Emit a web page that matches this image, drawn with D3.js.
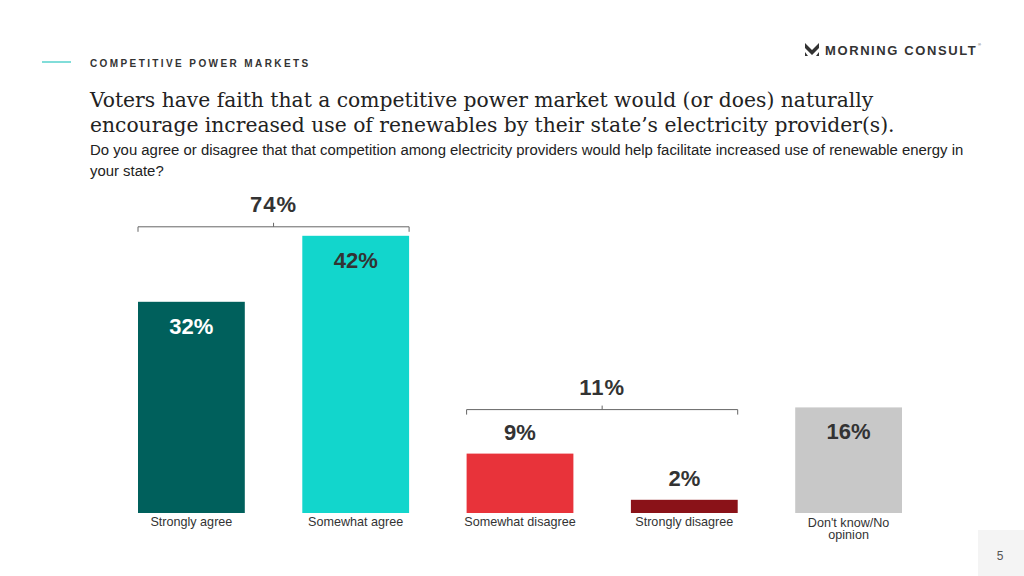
<!DOCTYPE html>
<html><head><meta charset="utf-8">
<script src="https://cdn.jsdelivr.net/npm/d3@7"></script>
<style>body{margin:0;background:#fff;} svg{display:block;}</style>
</head><body>
<svg id="c" width="1024" height="576"></svg>
<script>
const categories = ["Strongly agree","Somewhat agree","Somewhat disagree","Strongly disagree","Don't know/No opinion"];
const values = [32, 42, 9, 2, 16];
const colors = ["#00605c","#12d6cc","#e8333a","#8a1218","#c8c8c8"];
const labelColors = ["#ffffff","#333333","#333333","#333333","#333333"];
const labelInside = [true, true, false, false, true];
const groups = [{label:"74%", from:0, to:1},{label:"11%", from:2, to:3}];

const svg = d3.select("#c");
const sans = "'Liberation Sans', Arial, sans-serif";

function fitText(sel, width, baseSize) {
  const w = sel.node().getComputedTextLength();
  sel.attr("font-size", baseSize * width / w);
}

// header
svg.append("line").attr("x1",42).attr("x2",71).attr("y1",62).attr("y2",62).attr("stroke","#2cc6c0").attr("stroke-width",1.2);
svg.append("text").attr("x",90).attr("y",67).text("COMPETITIVE POWER MARKETS")
  .attr("font-family",sans).attr("font-weight","bold").attr("font-size",10).attr("letter-spacing",2.4).attr("fill","#333");

// logo
const logo = svg.append("g").attr("transform","translate(805,43)");
logo.append("path").attr("d","M0,0 L7,7 L14,0 L14,5 L7,12 L0,5 Z").attr("fill","#333");
logo.append("path").attr("d","M0,9 L3,13 L0,13 Z M14,9 L11,13 L14,13 Z").attr("fill","#333");
logo.append("text").attr("x",20).attr("y",12).text("MORNING CONSULT")
  .attr("font-family",sans).attr("font-weight","bold").attr("font-size",13).attr("letter-spacing",1.6).attr("fill","#333");
logo.append("text").attr("x",173).attr("y",3).text("®").attr("font-family",sans).attr("font-size",4).attr("fill","#333");

// title
const serif = "'DejaVu Serif', Georgia, serif";
const t1 = svg.append("text").attr("x",90).attr("y",107).text("Voters have faith that a competitive power market would (or does) naturally")
  .attr("font-family",serif).attr("font-size",20).attr("fill","#222");
fitText(t1, 784, 20);
const t2 = svg.append("text").attr("x",90).attr("y",132).text("encourage increased use of renewables by their state’s electricity provider(s).")
  .attr("font-family",serif).attr("font-size",t1.attr("font-size")).attr("fill","#222");
const s1 = svg.append("text").attr("x",90).attr("y",155).text("Do you agree or disagree that that competition among electricity providers would help facilitate increased use of renewable energy in")
  .attr("font-family",sans).attr("font-size",14).attr("fill","#222");
fitText(s1, 874, 14);
svg.append("text").attr("x",90).attr("y",176).text("your state?")
  .attr("font-family",sans).attr("font-size",s1.attr("font-size")).attr("fill","#222");

// chart
const x = d3.scaleBand().domain(categories).range([138,902]).paddingInner(0.35).paddingOuter(0);
const y = d3.scaleLinear().domain([0,10]).range([513,447]);

svg.selectAll("rect.bar").data(categories).join("rect").attr("class","bar")
  .attr("x",d=>x(d)).attr("width",x.bandwidth())
  .attr("y",(d,i)=>y(values[i])).attr("height",(d,i)=>y(0)-y(values[i]))
  .attr("fill",(d,i)=>colors[i]);

svg.selectAll("text.val").data(categories).join("text").attr("class","val")
  .attr("x",d=>x(d)+x.bandwidth()/2)
  .attr("y",(d,i)=> labelInside[i] ? y(values[i])+32 : y(values[i])-14)
  .attr("text-anchor","middle").attr("font-family",sans).attr("font-weight","bold").attr("font-size",22)
  .attr("fill",(d,i)=>labelColors[i]).text((d,i)=>values[i]+"%");

// category labels
categories.forEach((c,i)=>{
  const cx = x(c)+x.bandwidth()/2;
  const t = svg.append("text").attr("x",cx).attr("text-anchor","middle").attr("font-family",sans).attr("font-size",12.6).attr("fill","#333");
  if (c === "Don't know/No opinion") {
    t.append("tspan").attr("x",cx).attr("y",527).text("Don't know/No");
    t.append("tspan").attr("x",cx).attr("y",539).text("opinion");
  } else {
    t.attr("y",526).text(c);
  }
});

// brackets
groups.forEach(g=>{
  const x0 = x(categories[g.from]), x1 = x(categories[g.to])+x.bandwidth();
  const tops = [g.from, g.to].map(i => y(values[i]) - (labelInside[i] ? 0 : 35));
  const by = Math.min(...tops) - 9;
  const mid = (x0+x1)/2;
  svg.append("path").attr("d",`M${x0},${by+5}V${by}H${x1}V${by+5}M${mid},${by}V${by-4}`)
    .attr("fill","none").attr("stroke","#666").attr("stroke-width",1);
  svg.append("text").attr("x",mid).attr("y",by-15).attr("text-anchor","middle")
    .attr("font-family",sans).attr("font-weight","bold").attr("font-size",22).attr("letter-spacing",1).attr("fill","#333").text(g.label);
});

// page number
svg.append("rect").attr("x",978).attr("y",530).attr("width",46).attr("height",46).attr("fill","#f4f4f4");
svg.append("text").attr("x",1000).attr("y",560).attr("text-anchor","middle").attr("font-family",sans).attr("font-size",12).attr("fill","#555").text("5");
</script>
</body></html>
